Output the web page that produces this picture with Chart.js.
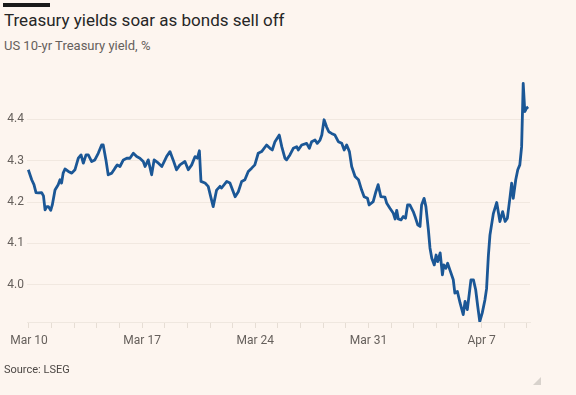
<!DOCTYPE html>
<html>
<head>
<meta charset="utf-8">
<script src="https://cdn.jsdelivr.net/npm/chart.js@4"></script>
<style>
  html, body { margin: 0; padding: 0; }
  body { width: 576px; height: 395px; background: #fdf5ef; position: relative; overflow: hidden; font-family: Roboto, sans-serif; }
  .bar { position: absolute; left: 3px; top: 3px; width: 47px; height: 4px; background: #1a1a1a; }
  .title { position: absolute; left: 4px; top: 10px; font-size: 17px; color: #262626; white-space: nowrap; }
  .subtitle { position: absolute; left: 4px; top: 38px; font-size: 13px; color: #66605c; white-space: nowrap; }
  .source { position: absolute; left: 4px; top: 363px; font-size: 11px; color: #4d4845; white-space: nowrap; }
  .wrap { position: absolute; left: 0; top: 60px; width: 576px; height: 307px; }
  .corner { position: absolute; left: 533px; top: 377px; width: 0; height: 0; border-left: 8px solid transparent; border-bottom: 8px solid #d8d2cc; }
</style>
</head>
<body>
<div class="bar"></div>
<div class="title">Treasury yields soar as bonds sell off</div>
<div class="subtitle">US 10-yr Treasury yield, %</div>
<div class="wrap"><canvas id="chart"></canvas></div>
<div class="source">Source: LSEG</div>
<div class="corner"></div>
<script>
// x = trading days since the Mar 10 open (weekends removed)
const tradingDays = [
  -0.03, 0.12, 0.22, 0.31, 0.41, 0.56, 0.64, 0.71, 0.79, 0.86,
  0.96, 1.03, 1.15, 1.29, 1.37, 1.44, 1.51, 1.59, 1.74, 1.89,
  2.03, 2.18, 2.30, 2.40, 2.52, 2.62, 2.77, 2.91, 3.06, 3.21,
  3.28, 3.40, 3.50, 3.66, 3.80, 3.90, 4.02, 4.17, 4.32, 4.46,
  4.61, 4.76, 4.90, 5.05, 5.13, 5.27, 5.42, 5.53, 5.72, 5.87,
  6.08, 6.23, 6.37, 6.52, 6.67, 6.89, 7.04, 7.19, 7.34, 7.44,
  7.53, 7.60, 7.78, 7.92, 8.03, 8.14, 8.29, 8.44, 8.51, 8.74,
  8.88, 9.11, 9.25, 9.40, 9.54, 9.69, 9.84, 9.98, 10.13, 10.28,
  10.50, 10.65, 10.75, 10.87, 11.06, 11.17, 11.31, 11.38, 11.53, 11.68,
  11.83, 11.90, 12.05, 12.27, 12.39, 12.49, 12.64, 12.74, 12.86, 12.94,
  13.04, 13.15, 13.25, 13.37, 13.52, 13.67, 13.82, 13.93, 14.04, 14.16,
  14.26, 14.41, 14.56, 14.70, 14.81, 14.96, 15.03, 15.21, 15.33, 15.43,
  15.55, 15.73, 15.81, 15.95, 16.10, 16.18, 16.25, 16.32, 16.44, 16.54,
  16.64, 16.73, 16.83, 16.98, 17.06, 17.18, 17.28, 17.35, 17.46, 17.54,
  17.65, 17.72, 17.80, 17.91, 17.99, 18.06, 18.17, 18.27, 18.33, 18.42,
  18.50, 18.60, 18.75, 18.82, 18.93, 19.05, 19.19, 19.27, 19.37, 19.46,
  19.53, 19.64, 19.74, 19.83, 19.92, 20.03, 20.15, 20.22, 20.30, 20.37,
  20.52, 20.67, 20.81, 20.93, 21.04, 21.14, 21.26, 21.33, 21.40, 21.51,
  21.60, 21.69, 21.77, 21.84, 21.91, 21.99, 22.06
]

const yields = [
  4.278, 4.254, 4.242, 4.223, 4.222, 4.223, 4.215, 4.181, 4.189, 4.189,
  4.180, 4.193, 4.229, 4.242, 4.254, 4.246, 4.270, 4.280, 4.274, 4.270,
  4.278, 4.306, 4.314, 4.294, 4.314, 4.314, 4.298, 4.302, 4.318, 4.338,
  4.338, 4.302, 4.266, 4.270, 4.282, 4.290, 4.286, 4.302, 4.306, 4.306,
  4.318, 4.310, 4.306, 4.298, 4.286, 4.302, 4.266, 4.302, 4.294, 4.286,
  4.310, 4.322, 4.302, 4.278, 4.290, 4.298, 4.278, 4.290, 4.310, 4.306,
  4.324, 4.250, 4.246, 4.238, 4.213, 4.189, 4.229, 4.238, 4.234, 4.250,
  4.246, 4.213, 4.225, 4.250, 4.254, 4.274, 4.282, 4.290, 4.318, 4.322,
  4.338, 4.330, 4.326, 4.346, 4.362, 4.334, 4.306, 4.302, 4.314, 4.330,
  4.334, 4.326, 4.338, 4.342, 4.330, 4.346, 4.350, 4.342, 4.350, 4.362,
  4.399, 4.382, 4.370, 4.366, 4.362, 4.346, 4.342, 4.326, 4.338, 4.322,
  4.286, 4.262, 4.254, 4.229, 4.213, 4.209, 4.193, 4.201, 4.225, 4.242,
  4.213, 4.212, 4.197, 4.185, 4.173, 4.159, 4.180, 4.159, 4.157, 4.165,
  4.161, 4.193, 4.193, 4.177, 4.165, 4.145, 4.141, 4.193, 4.209, 4.189,
  4.133, 4.089, 4.064, 4.048, 4.072, 4.056, 4.077, 4.024, 4.048, 4.040,
  4.052, 4.036, 4.012, 3.980, 3.984, 3.956, 3.928, 3.960, 3.940, 3.980,
  4.012, 4.012, 3.988, 3.948, 3.911, 3.932, 3.964, 3.990, 4.070, 4.120,
  4.172, 4.199, 4.153, 4.177, 4.153, 4.161, 4.213, 4.246, 4.209, 4.254,
  4.278, 4.290, 4.334, 4.487, 4.419, 4.427, 4.430
]

const tickDays = [0, 5, 10, 15, 20]
const tickLabels = ["Mar 10", "Mar 17", "Mar 24", "Mar 31", "Apr 7"]
const yTicks = [4.0, 4.1, 4.2, 4.3, 4.4]

const points = tradingDays.map((d, i) => ({ x: d, y: yields[i] }))

const tickFont = { family: "Roboto, sans-serif", size: 12 }
const tickColor = "#66605c"

new Chart(document.getElementById("chart"), {
  type: "line",
  data: {
    datasets: [{
      data: points,
      borderColor: "#1b5796",
      borderWidth: 2.8,
      pointRadius: 0,
      tension: 0,
      borderJoinStyle: "round"
    }]
  },
  options: {
    responsive: true,
    maintainAspectRatio: false,
    animation: false,
    layout: { padding: { top: 18, right: 46, left: 0, bottom: 0 } },
    plugins: {
      legend: { display: false },
      tooltip: { enabled: false }
    },
    scales: {
      x: {
        type: "linear",
        min: -0.088,
        max: 22.14,
        afterFit: (scale) => { scale.height = 45 },
        ticks: {
          stepSize: 1,
          includeBounds: false,
          autoSkip: false,
          maxRotation: 0,
          padding: 6,
          color: tickColor,
          font: tickFont,
          callback: (value) => {
            const i = tickDays.indexOf(value)
            return i >= 0 ? tickLabels[i] : ""
          }
        },
        grid: {
          drawOnChartArea: false,
          drawTicks: true,
          tickLength: 6,
          color: "#e6ddd4"
        },
        border: { display: true, color: "#efe7df" }
      },
      y: {
        min: 3.91,
        max: 4.5,
        afterFit: (scale) => { scale.width = 27 },
        afterBuildTicks: (scale) => {
          scale.ticks = yTicks.map(v => ({ value: v }))
        },
        ticks: {
          padding: 3,
          color: tickColor,
          font: tickFont,
          callback: (value) => value.toFixed(1)
        },
        grid: {
          drawTicks: false,
          color: "#f1e8e0"
        },
        border: { display: false }
      }
    }
  }
})
</script>
</body>
</html>
